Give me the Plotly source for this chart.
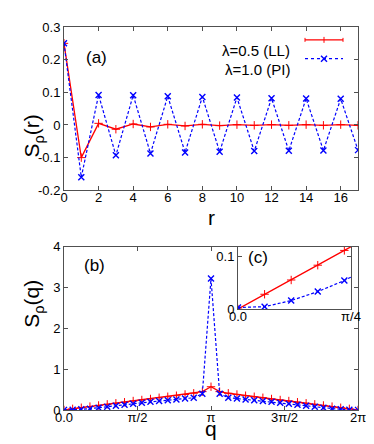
import math
import plotly.graph_objects as go

# === DATA ===
r = list(range(18))
s_r_ll = [0.25, -0.10, 0.005, -0.013, 0.003, -0.006, 0.002, -0.003, 0.002,
          -0.002, 0.001, -0.001, 0.001, -0.001, 0.001, -0.001, 0.001, -0.001]
s_r_pi = [0.25, -0.16, 0.092, -0.093, 0.091, -0.087, 0.088, -0.084, 0.086,
          -0.082, 0.084, -0.080, 0.082, -0.079, 0.081, -0.078, 0.080, -0.077]

L = 34
k = list(range(L + 1))
q = [2 * math.pi * i / L for i in k]
# k = 0..17, mirrored for k = 18..34
s_q_ll_half = [0.0, 0.028, 0.055, 0.083, 0.111, 0.138, 0.165, 0.19, 0.22,
               0.245, 0.27, 0.30, 0.325, 0.35, 0.38, 0.41, 0.45, 0.57]
s_q_pi_half = [0.003, 0.0045, 0.016, 0.033, 0.054, 0.08, 0.105, 0.13, 0.155,
               0.175, 0.20, 0.22, 0.24, 0.26, 0.28, 0.30, 0.40, 3.22]
s_q_ll = s_q_ll_half + s_q_ll_half[-2::-1]
s_q_pi = s_q_pi_half + s_q_pi_half[-2::-1]

labels = ["λ=0.5 (LL)", "λ=1.0 (PI)"]
RED, BLUE = "#ff0000", "#0000ff"
FRAME = "#505050"
FONT = "Liberation Sans"

# pixel -> paper helpers (plot area: x 56..350, y 15..402)
W, H = 374, 444
ML, MR, MT, MB = 56, 24, 15, 42
def px(x):
    return (x - ML) / (W - ML - MR)
def py(y):
    return (H - MB - y) / (H - MT - MB)

fig = go.Figure()

red_line = dict(color=RED, width=1.3)
blue_line = dict(color=BLUE, width=1.2, dash="3px,2px")
red_mk = dict(symbol="cross-thin", size=6, line=dict(color=RED, width=1))
blue_mk = dict(symbol="x-thin", size=6, line=dict(color=BLUE, width=1.4))

# (a)
fig.add_trace(go.Scatter(x=r, y=s_r_ll, mode="lines+markers", line=red_line, marker=red_mk, xaxis="x", yaxis="y"))
fig.add_trace(go.Scatter(x=r, y=s_r_pi, mode="lines+markers", line=blue_line, marker=blue_mk, xaxis="x", yaxis="y"))
# (b)
fig.add_trace(go.Scatter(x=q, y=s_q_ll, mode="lines+markers", line=red_line, marker=red_mk, xaxis="x2", yaxis="y2"))
fig.add_trace(go.Scatter(x=q, y=s_q_pi, mode="lines+markers", line=blue_line, marker=blue_mk, xaxis="x2", yaxis="y2"))
# (c) inset
fig.add_trace(go.Scatter(x=q[:6], y=s_q_ll[:6], mode="lines+markers", line=red_line, marker=red_mk, xaxis="x3", yaxis="y3"))
fig.add_trace(go.Scatter(x=q[:6], y=s_q_pi[:6], mode="lines+markers", line=blue_line, marker=blue_mk, xaxis="x3", yaxis="y3"))

ax = dict(showline=True, linecolor=FRAME, linewidth=1, mirror="ticks", ticks="inside",
          ticklen=4, tickcolor=FRAME, showgrid=False, zeroline=False,
          tickfont=dict(family=FONT, size=13, color="black"))
axx = dict(ax, ticklabelstandoff=-5)

fig.update_layout(
    width=W, height=H, showlegend=False,
    margin=dict(l=ML, r=MR, t=MT, b=MB),
    paper_bgcolor="white", plot_bgcolor="white",
    xaxis=dict(axx, domain=[0, 1], range=[0, 17], tickvals=list(range(0, 17, 2)), anchor="y"),
    yaxis=dict(ax, domain=[py(180), 1], range=[-0.2, 0.3], tickvals=[-0.2, -0.1, 0, 0.1, 0.2, 0.3],
               ticktext=["-0.2", "-0.1", "0", "0.1", "0.2", "0.3"], anchor="x"),
    xaxis2=dict(axx, domain=[0, 1], range=[0, 2 * math.pi],
                tickvals=[0, math.pi / 2, math.pi, 3 * math.pi / 2, 2 * math.pi],
                ticktext=["0.0", "π/2", "π", "3π/2", "2π"], anchor="y2"),
    yaxis2=dict(ax, domain=[0, py(237)], range=[0, 4], tickvals=[0, 1, 2, 3, 4], anchor="x2"),
    xaxis3=dict(axx, domain=[px(230), px(343)], range=[0, math.pi / 4],
                tickvals=[0, math.pi / 4], ticktext=["0.0", "π/4"], anchor="y3"),
    yaxis3=dict(ax, domain=[py(300), py(237)], range=[0, 0.118],
                tickvals=[0, 0.1], ticktext=["0", "0.1"], anchor="x3"),
)

ann = []
def note(text, x, y, size, **kw):
    ann.append(dict(text=text, x=px(x), y=py(y), xref="paper", yref="paper", showarrow=False,
                    font=dict(family=FONT, size=size, color="black"), **kw))

note("(a)", 76, 34, 17)
note("(b)", 74, 256, 17)
note("(c)", 250, 248, 17)
note("r", 203, 207, 21)
note("q", 203, 434, 21)
note("S<sub>ρ</sub>(r)", 10, 102, 21, textangle=-90)
note("S<sub>ρ</sub>(q)", 10, 321, 21, textangle=-90)
note(labels[0], 284, 28, 15, xanchor="right")
note(labels[1], 284, 47, 15, xanchor="right")
fig.update_layout(annotations=ann)

# legend samples (text left, sample right, gnuplot style)
shapes = []
def seg(x0, y0, x1, y1, color, dash="solid", width=1.2):
    shapes.append(dict(type="line", xref="paper", yref="paper", x0=px(x0), y0=py(y0),
                       x1=px(x1), y1=py(y1), line=dict(color=color, width=width, dash=dash)))

seg(297, 28, 335, 28, RED, width=1.3)
seg(297, 26, 297, 30, RED, width=1)
seg(335, 26, 335, 30, RED, width=1)
seg(316, 25, 316, 31, RED, width=1)
seg(297, 47, 335, 47, BLUE, dash="dot")
seg(313, 44, 319, 50, BLUE, width=1.4)
seg(313, 50, 319, 44, BLUE, width=1.4)
fig.update_layout(shapes=shapes)

fig.write_html("out.html")
